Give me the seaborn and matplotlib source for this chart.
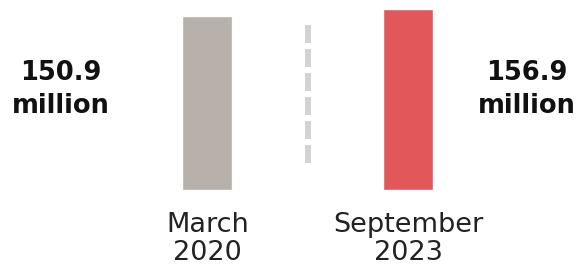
import matplotlib
matplotlib.use("Agg")
import matplotlib.pyplot as plt
import seaborn as sns
import pandas as pd

categories = ["March\n2020", "September\n2023"]
values = [150.9, 156.9]
value_labels = ["150.9\nmillion", "156.9\nmillion"]
colors = ["#b8b0ab", "#e2575a"]

sns.set_theme(style="white")
plt.rcParams["font.family"] = ["DejaVu Sans"]

df = pd.DataFrame({"period": categories, "value": values})

fig = plt.figure(figsize=(5.82, 2.72), dpi=100)
ax = fig.add_axes([0, 82 / 272, 1, 190 / 272])

sns.barplot(data=df, x="period", y="value", hue="period", palette=colors,
            width=0.249, legend=False, ax=ax, saturation=1)

ax.set_xlim(-1.031, 1.864)
ax.set_ylim(0, 164.7)

# dashed divider between periods (drawn top to bottom)
ax.plot([0.5, 0.5], [143.0, 23.7], color="#d3d3d3", lw=4.32,
        linestyle=(0, (3.0, 1.0)), solid_capstyle="butt", dash_capstyle="butt")

for s in ax.spines.values():
    s.set_visible(False)
ax.set_yticks([])
ax.set_xlabel("")
ax.set_ylabel("")
ax.tick_params(axis="x", length=0, pad=16, labelsize=19.5, labelcolor="#222222")
for lbl in ax.get_xticklabels():
    lbl.set_linespacing(1.1)

offsets = [-0.728, 0.59]
for i, (lab, off) in enumerate(zip(value_labels, offsets)):
    ax.text(i + off, 87, lab, ha="center", va="center", fontsize=18.5,
            fontweight="bold", color="#111111", linespacing=1.32)

fig.savefig("out.png", dpi=100)
